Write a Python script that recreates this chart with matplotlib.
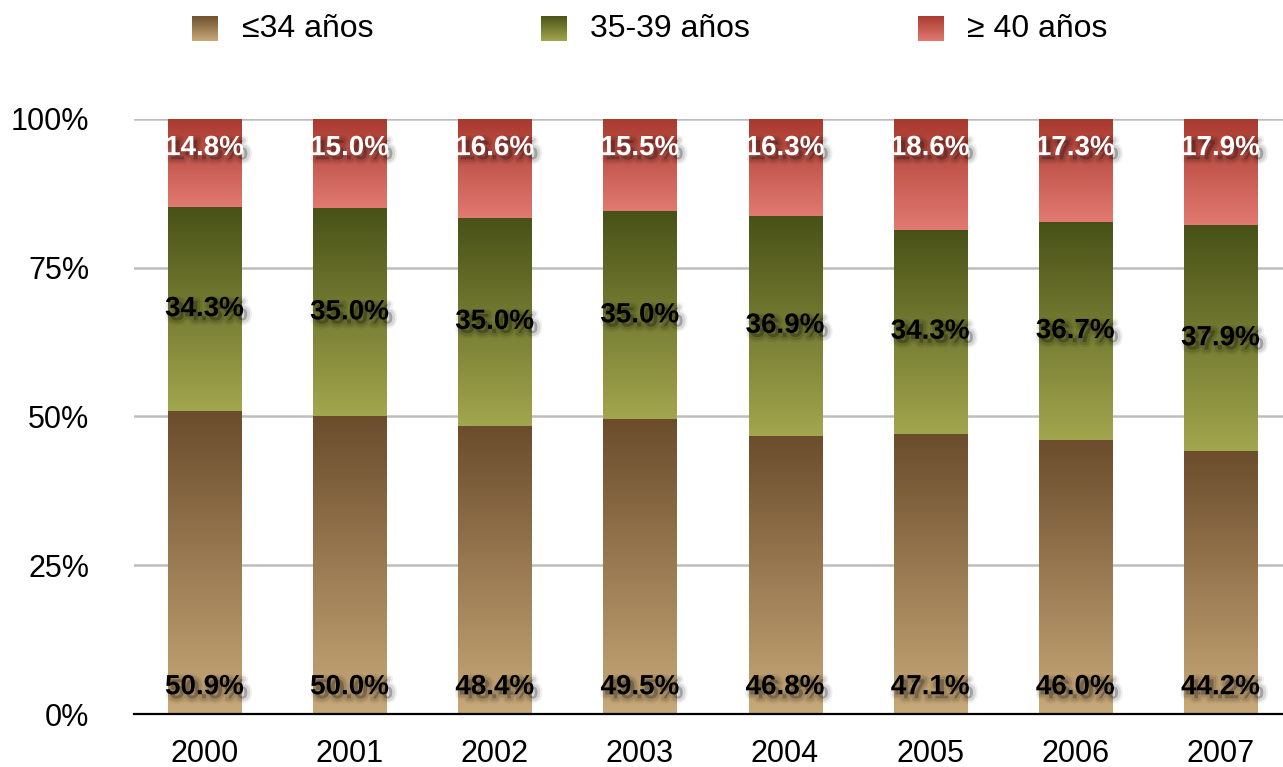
import numpy as np
import matplotlib
matplotlib.use("Agg")
import matplotlib.pyplot as plt
import matplotlib.patheffects as pe
from matplotlib.colors import LinearSegmentedColormap

plt.rcParams["font.family"] = ["Liberation Sans", "DejaVu Sans"]

years = ["2000", "2001", "2002", "2003", "2004", "2005", "2006", "2007"]
under35 = [50.9, 50.0, 48.4, 49.5, 46.8, 47.1, 46.0, 44.2]
age35_39 = [34.3, 35.0, 35.0, 35.0, 36.9, 34.3, 36.7, 37.9]
over40 = [14.8, 15.0, 16.6, 15.5, 16.3, 18.6, 17.3, 17.9]
series_labels = ["\u226434 años", "35-39 años", "\u2265 40 años"]

# gradient colours: (top, bottom)
grads = [("#6b4c2c", "#c8a979"), ("#485117", "#a2a64e"), ("#a8392e", "#e27a72")]
cmaps = [LinearSegmentedColormap.from_list(f"g{i}", [b, t]) for i, (t, b) in enumerate(grads)]
grad_img = np.linspace(0, 1, 256).reshape(-1, 1)

fig = plt.figure(figsize=(12.83, 7.67), dpi=100)
ax = fig.add_axes([0.1044, 0.0691, 0.8956, 0.7758])

x = np.arange(len(years))
width = 0.503

# soft, blurred-looking drop shadow built from a few translucent strokes
shadow = [
    pe.SimpleLineShadow(offset=(3, -3), shadow_color="black", alpha=0.06, linewidth=7),
    pe.SimpleLineShadow(offset=(3, -3), shadow_color="black", alpha=0.10, linewidth=4),
    pe.SimplePatchShadow(offset=(3, -3), shadow_rgbFace="black", alpha=0.25),
    pe.Normal(),
]

bottom = np.zeros(len(years))
for i, vals in enumerate([under35, age35_39, over40]):
    vals = np.array(vals)
    bars = ax.bar(x, vals, width, bottom=bottom, color="none", edgecolor="none")
    for rect in bars:
        x0, y0 = rect.get_x(), rect.get_y()
        ax.imshow(grad_img, cmap=cmaps[i], origin="lower", aspect="auto",
                  extent=(x0, x0 + rect.get_width(), y0, y0 + rect.get_height()), zorder=2)
    for xi, b, v in zip(x, bottom, vals):
        if i == 0:
            ty, col = 4.5, "black"
        elif i == 1:
            ty, col = b + v / 2, "black"
        else:
            ty, col = 95.1, "white"
        ax.text(xi, ty, f"{v:.1f}%", ha="center", va="center", fontsize=20,
                fontweight="bold", color=col, zorder=5, path_effects=shadow)
    bottom = bottom + vals

ax.set_xlim(-0.486, 7.431)
ax.set_ylim(0, 100)
ax.set_xticks(x)
ax.set_xticklabels(years)
ax.set_yticks([0, 25, 50, 75, 100])
ax.set_yticklabels(["0%", "25%", "50%", "75%", "100%"])
ax.tick_params(length=0, labelsize=22)
ax.tick_params(axis="x", pad=18)
ax.tick_params(axis="y", pad=32)
ax.set_axisbelow(True)
ax.yaxis.grid(True, color="#bdbdbd", linewidth=1.8)
for s in ["top", "right", "left"]:
    ax.spines[s].set_visible(False)
ax.spines["bottom"].set_linewidth(1.6)
ax.spines["bottom"].set_zorder(6)

# legend
sq_x = [0.1497, 0.4217, 0.7155]
tx_x = [0.1886, 0.4599, 0.7537]
for i in range(3):
    lax = fig.add_axes([sq_x[i], 0.9465, 0.0195, 0.0326])
    lax.imshow(grad_img, cmap=cmaps[i], origin="lower", aspect="auto")
    lax.axis("off")
    fig.text(tx_x[i], 0.962, series_labels[i], fontsize=23, va="center", ha="left")

fig.savefig("out.png", dpi=100)
